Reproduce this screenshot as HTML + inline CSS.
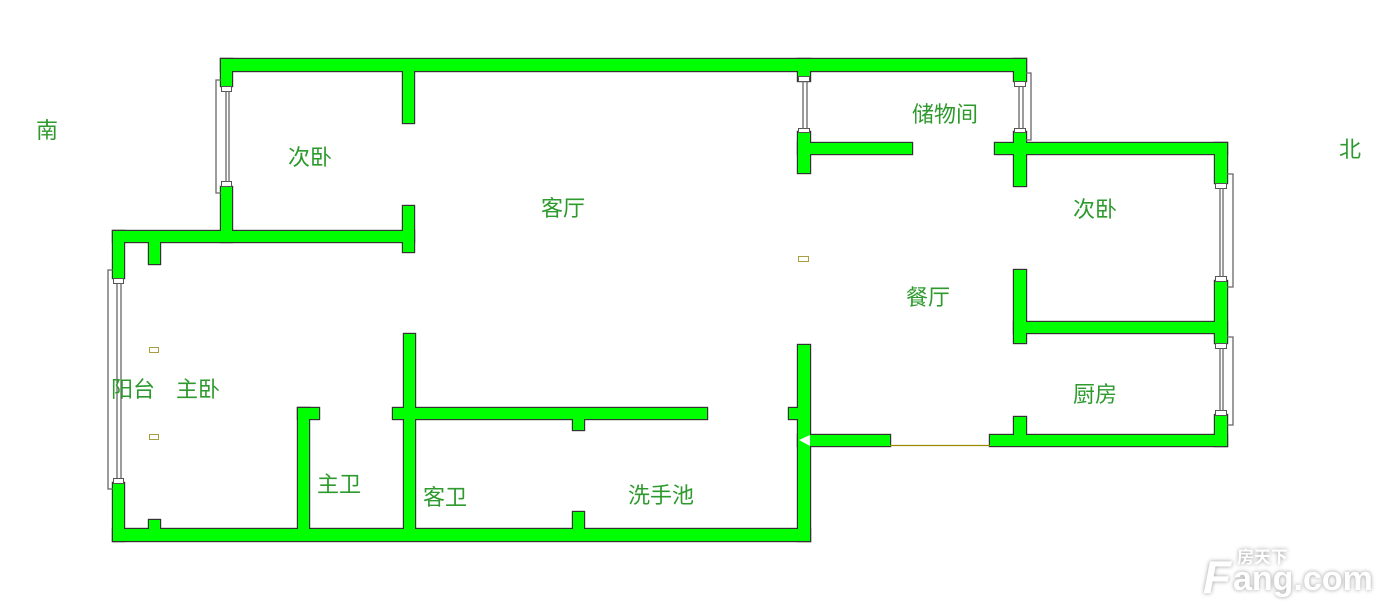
<!DOCTYPE html>
<html><head><meta charset="utf-8"><style>
html,body{margin:0;padding:0;background:#fff;}
svg{display:block;}
text{font-family:"Liberation Sans","Noto Sans CJK SC",sans-serif;font-size:22px;fill:#2e9a2e;}
</style></head><body>
<svg width="1400" height="614" viewBox="0 0 1400 614" xmlns="http://www.w3.org/2000/svg">
<defs>
<g id="w">
<rect x="221" y="59" width="805" height="12"/>
<rect x="221" y="59" width="11" height="27"/>
<rect x="221" y="187" width="11" height="55"/>
<rect x="113" y="231" width="301" height="11"/>
<rect x="403" y="71" width="11" height="52"/>
<rect x="403" y="206" width="11" height="46"/>
<rect x="149" y="242" width="11" height="22"/>
<rect x="113" y="231" width="11" height="47"/>
<rect x="113" y="483" width="11" height="58"/>
<rect x="113" y="529" width="697" height="12"/>
<rect x="149" y="520" width="11" height="10"/>
<rect x="298" y="408" width="11" height="122"/>
<rect x="298" y="408" width="21" height="11"/>
<rect x="404" y="334" width="11" height="196"/>
<rect x="393" y="408" width="314" height="11"/>
<rect x="573" y="418" width="11" height="12"/>
<rect x="573" y="512" width="11" height="18"/>
<rect x="798" y="345" width="12" height="196"/>
<rect x="789" y="408" width="10" height="11"/>
<rect x="798" y="435" width="92" height="11"/>
<rect x="798" y="59" width="12" height="22"/>
<rect x="798" y="132" width="12" height="41"/>
<rect x="798" y="143" width="114" height="11"/>
<rect x="1014" y="59" width="12" height="22"/>
<rect x="1014" y="132" width="12" height="54"/>
<rect x="995" y="143" width="232" height="11"/>
<rect x="1215" y="143" width="12" height="40"/>
<rect x="1215" y="281" width="12" height="62"/>
<rect x="1215" y="415" width="12" height="31"/>
<rect x="1014" y="270" width="12" height="73"/>
<rect x="1014" y="322" width="213" height="11"/>
<rect x="1014" y="417" width="12" height="20"/>
<rect x="990" y="435" width="237" height="11"/>
</g>
</defs>
<use href="#w" fill="#333" stroke="#333" stroke-width="2.4"/>
<use href="#w" fill="#00ff00"/>

<g fill="#fff" stroke="#555" stroke-width="1">
<rect x="221.5" y="86.5" width="10" height="5"/><rect x="221.5" y="181.5" width="10" height="5"/>
<rect x="113.5" y="278.5" width="10" height="5"/><rect x="113.5" y="478.5" width="10" height="5"/>
<rect x="798.5" y="76.5" width="11" height="5"/><rect x="798.5" y="128.5" width="11" height="4"/>
<rect x="1014.5" y="81.5" width="11" height="5"/><rect x="1014.5" y="128.5" width="11" height="4"/>
<rect x="1215.5" y="183.5" width="11" height="5"/><rect x="1215.5" y="276.5" width="11" height="5"/>
<rect x="1215.5" y="343.5" width="11" height="5"/><rect x="1215.5" y="410.5" width="11" height="5"/>
</g>
<g fill="none" stroke="#666" stroke-width="1.3">
<path d="M226 91V182M229 91V182M221 80H216V193H221"/>
<path d="M117 283V478M121 283V478M113 270H108V489H113"/>
<path d="M803 81V129M807 81V129"/>
<path d="M1019 86V129M1023 86V129M1026 73H1031V140H1026"/>
<path d="M1220 188V277M1223 188V277M1227 174H1233V287H1227"/>
<path d="M1220 348V411M1223 348V411M1227 337H1233V425H1227"/>
</g>
<line x1="890" y1="445.5" x2="990" y2="445.5" stroke="#9a8a00" stroke-width="1.2"/>
<polygon points="799,440 810,435 810,446" fill="#fff"/>
<g fill="none" stroke="#a8a040" stroke-width="1">
<rect x="798.5" y="256.5" width="10" height="5"/>
<rect x="149.5" y="347.5" width="9" height="5"/>
<rect x="149.5" y="434.5" width="9" height="5"/>
</g>

<text x="36" y="138">南</text>
<text x="1339" y="157">北</text>
<text x="288" y="165">次卧</text>
<text x="541" y="216">客厅</text>
<text x="912" y="122">储物间</text>
<text x="1073" y="217">次卧</text>
<text x="906" y="305">餐厅</text>
<text x="1073" y="402">厨房</text>
<text x="111" y="397">阳台</text>
<text x="176" y="397">主卧</text>
<text x="317" y="492">主卫</text>
<text x="423" y="505">客卫</text>
<text x="628" y="503">洗手池</text>

<g style="filter:drop-shadow(0 0 2px #999)">
<text x="1237" y="563" style="font-size:17px;fill:#fff;font-weight:bold">房天下</text>
<text x="1203" y="593" style="font-size:46px;fill:#fff;font-weight:bold;font-style:italic">F</text>
<text x="1233" y="590" style="font-size:34px;fill:#fff;font-weight:bold">ang.com</text>
</g>
</svg>
</body></html>
